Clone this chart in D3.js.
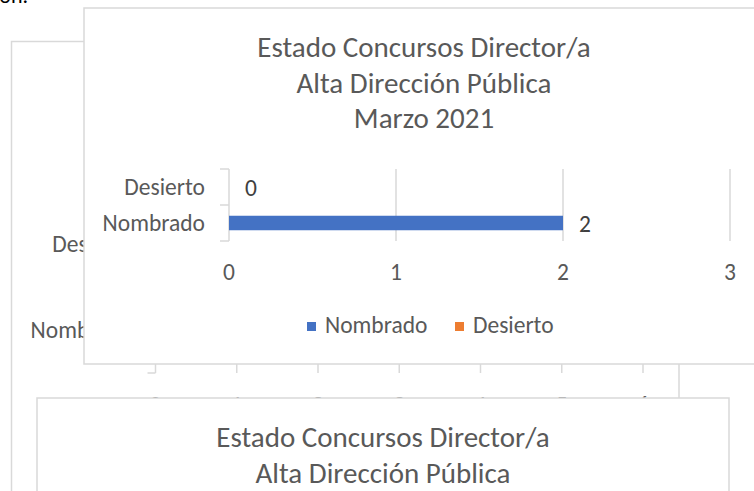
<!DOCTYPE html>
<html>
<head>
<meta charset="utf-8">
<script src="https://cdn.jsdelivr.net/npm/d3@7"></script>
<style>
html,body{margin:0;padding:0;background:#fff;}
svg{display:block;}
text{font-family:Carlito, Lato, "Open Sans", sans-serif;}
</style>
</head>
<body>
<svg id="c" width="754" height="491"></svg>
<script>
// ---- data ----
const titleLines = ["Estado Concursos Director/a", "Alta Dirección Pública", "Marzo 2021"];
const bottomTitleLines = ["Estado Concursos Director/a", "Alta Dirección Pública"];
const categories = ["Desierto", "Nombrado"];          // top to bottom
const seriesNames = ["Nombrado", "Desierto"];
const values = [0, 2];                                 // per category (Desierto, Nombrado)
const xTicks = [0, 1, 2, 3];
const backTicks = [0, 1, 2, 3, 4, 5, 6];
const seriesColors = ["#4472C4", "#ED7D31"];

const GRID = "#D9D9D9", TXT = "#595959";
const LAB = 23.5, TIT = 29;
const svg = d3.select("#c");
svg.append("rect").attr("width", 754).attr("height", 491).attr("fill", "#fff");

// stray document text at top-left
svg.append("text").attr("x", 28).attr("y", 3).attr("text-anchor", "end")
  .attr("font-size", 22).attr("fill", "#000").text("ión.");

// ---------- back chart ----------
const back = svg.append("g");
back.append("rect").attr("x", 11.5).attr("y", 41.5).attr("width", 667.5).attr("height", 600)
  .attr("fill", "#fff").attr("stroke", GRID).attr("stroke-width", 1.5);
const bx = d3.scaleLinear().domain([0, 6]).range([155.5, 643]);
const by = d3.scaleBand().domain(categories).range([201, 373]);
back.selectAll("line.g").data(backTicks.slice(1)).join("line")
  .attr("x1", d => bx(d)).attr("x2", d => bx(d)).attr("y1", by.range()[0]).attr("y2", by.range()[1])
  .attr("stroke", GRID).attr("stroke-width", 1.5);
back.append("line").attr("x1", bx(0)).attr("x2", bx(0)).attr("y1", 201).attr("y2", 373)
  .attr("stroke", GRID).attr("stroke-width", 1.5);
back.selectAll("line.ct").data([201, 287, 373]).join("line")
  .attr("x1", bx(0) - 8).attr("x2", bx(0)).attr("y1", d => d).attr("y2", d => d)
  .attr("stroke", GRID).attr("stroke-width", 1.5);
back.selectAll("text.cl").data(categories).join("text")
  .attr("x", 133).attr("y", d => by(d) + by.bandwidth() / 2 + 8)
  .attr("text-anchor", "end").attr("font-size", LAB).attr("fill", TXT).text(d => d);
back.selectAll("text.tl").data(backTicks).join("text")
  .attr("x", d => bx(d)).attr("y", 413).attr("text-anchor", "middle")
  .attr("font-size", LAB).attr("fill", TXT).text(d => d);

// ---------- front chart ----------
const front = svg.append("g");
front.append("rect").attr("x", 84).attr("y", 8).attr("width", 700).attr("height", 356)
  .attr("fill", "#fff").attr("stroke", GRID).attr("stroke-width", 1.5);
front.selectAll("text.title").data(titleLines).join("text")
  .attr("x", 424).attr("y", (d, i) => 57 + i * 35.5).attr("text-anchor", "middle")
  .attr("font-size", TIT).attr("fill", TXT).text(d => d);

const x = d3.scaleLinear().domain([0, 3]).range([229, 730]);
const y = d3.scaleBand().domain(categories).range([169, 241]);

// gridlines
front.selectAll("line.grid").data(xTicks.slice(1)).join("line")
  .attr("x1", d => x(d)).attr("x2", d => x(d)).attr("y1", 169).attr("y2", 241)
  .attr("stroke", GRID).attr("stroke-width", 1.5);
// category axis
front.append("line").attr("x1", x(0)).attr("x2", x(0)).attr("y1", 169).attr("y2", 241)
  .attr("stroke", GRID).attr("stroke-width", 1.5);
const edges = [y.range()[0]].concat(categories.map(c => y(c) + y.bandwidth()));
front.selectAll("line.ctick").data(edges).join("line")
  .attr("x1", x(0) - 9).attr("x2", x(0)).attr("y1", d => d).attr("y2", d => d)
  .attr("stroke", GRID).attr("stroke-width", 1.5);
front.selectAll("text.cat").data(categories).join("text")
  .attr("x", 205).attr("y", d => y(d) + y.bandwidth() / 2 + 8)
  .attr("text-anchor", "end").attr("font-size", LAB).attr("fill", TXT).text(d => d);

// bars
const barH = 14.5;
front.selectAll("rect.bar").data(categories).join("rect")
  .attr("x", x(0)).attr("y", d => y(d) + (y.bandwidth() - barH) / 2)
  .attr("width", (d, i) => x(values[i]) - x(0)).attr("height", barH)
  .attr("fill", d => seriesColors[seriesNames.indexOf(d)]);
// data labels
front.selectAll("text.dl").data(categories).join("text")
  .attr("x", (d, i) => x(values[i]) + 16).attr("y", d => y(d) + y.bandwidth() / 2 + 8.5)
  .attr("font-size", LAB).attr("fill", "#404040").text((d, i) => values[i]);

// x tick labels
front.selectAll("text.xt").data(xTicks).join("text")
  .attr("x", d => x(d)).attr("y", 280).attr("text-anchor", "middle")
  .attr("font-size", LAB).attr("fill", TXT).text(d => d);

// legend
const legX = [307, 455];
const leg = front.selectAll("g.leg").data(seriesNames).join("g")
  .attr("transform", (d, i) => `translate(${legX[i]},322)`);
leg.append("rect").attr("width", 9).attr("height", 9).attr("fill", (d, i) => seriesColors[i]);
leg.append("text").attr("x", 18).attr("y", 10.5).attr("font-size", LAB).attr("fill", TXT).text(d => d);

// ---------- bottom chart ----------
const bot = svg.append("g");
bot.append("rect").attr("x", 37).attr("y", 398).attr("width", 692).attr("height", 200)
  .attr("fill", "#fff").attr("stroke", GRID).attr("stroke-width", 1.5);
bot.selectAll("text.t").data(bottomTitleLines).join("text")
  .attr("x", 383).attr("y", (d, i) => 447 + i * 35.5).attr("text-anchor", "middle")
  .attr("font-size", TIT).attr("fill", TXT).text(d => d);
</script>
</body>
</html>
